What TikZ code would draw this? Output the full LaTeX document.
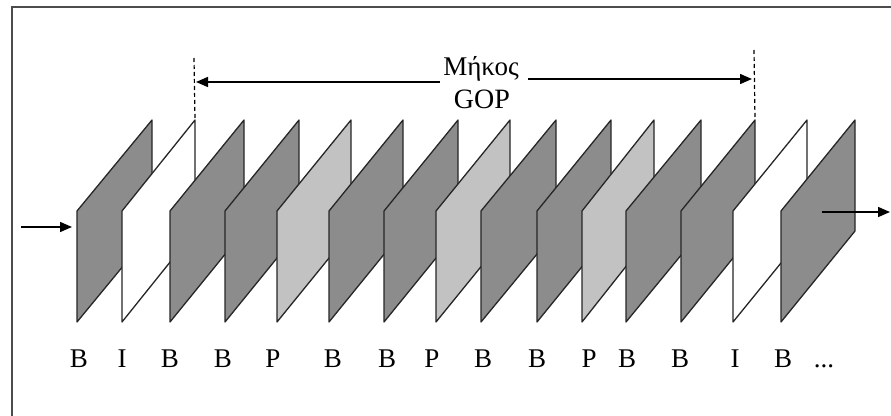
\documentclass[tikz,border=0pt]{standalone}
\usepackage{fontspec}
\setmainfont{Liberation Serif}
\usetikzlibrary{arrows.meta}
\definecolor{gdark}{HTML}{8C8C8C}
\definecolor{glight}{HTML}{C2C2C2}
\begin{document}
\begin{tikzpicture}[x=1pt,y=-1pt,
  framebase/.style={draw=black!85,line width=1.3pt,line join=round},
  fB/.style={framebase,fill=gdark},
  fP/.style={framebase,fill=glight},
  fI/.style={framebase,fill=white},
  lbl/.style={anchor=base,inner sep=0pt,font=\fontsize{27}{30}\selectfont},
  arr/.style={line width=1.5pt,-{Triangle[length=12pt,width=10pt]}},
  dsh/.style={line width=1.2pt,dash pattern=on 4pt off 3pt}]
\path[use as bounding box] (0,0) rectangle (891,415);
\clip (0,0) rectangle (891,415);
\draw[line width=2pt,draw=black!70] (12,7) rectangle (930,450);
\foreach \l/\r/\s/\lx/\n [count=\i] in {
  77/152/fB/79/B, 122/195/fI/122/I, 170/244/fB/170/B, 225/299/fB/223/B,
  277/351/fP/273/P, 329/403/fB/333/B, 384/458/fB/387/B, 436/510/fP/432/P,
  481/556/fB/483/B, 537/611/fB/537/B, 582/654/fP/589/P, 626/701/fB/627/B,
  681/755/fB/680/B, 733/807/fI/735/I, 781/855/fB/783/B}{
  \draw[\s] (\l,211) coordinate (ftl\i) -- (\r,120) coordinate (ftr\i)
     -- (\r,231) coordinate (fbr\i) -- (\l,322) coordinate (fbl\i) -- cycle;
  \node[lbl] (t\i) at (\lx,367) {\n};
}
\node[lbl] (tdots) at (824,367) {...};
% input / output arrows
\coordinate (inA) at (21,227);
\coordinate (inB) at (72,227);
\draw[arr] (inA) -- (inB);
\coordinate (outA) at (822,212);
\coordinate (outB) at (890,212);
\draw[arr] (outA) -- (outB);
% GOP length
\node[lbl,font=\fontsize{27}{30}\selectfont] (gop1) at (481,75) {Μήκος};
\node[lbl,font=\fontsize{28}{30}\selectfont] (gop2) at (482,108) {GOP};
\coordinate (dL) at (194,58);
\coordinate (dR) at (754,50);
\draw[dsh] (dL) -- (ftr2);
\draw[dsh] (dR) -- (ftr13);
\coordinate (aL) at (196,82);
\coordinate (aR) at (752,79);
\coordinate (aL0) at (440,82);
\coordinate (aR0) at (528,79);
\draw[arr] (aL0) -- (aL);
\draw[arr] (aR0) -- (aR);
\end{tikzpicture}
\end{document}
